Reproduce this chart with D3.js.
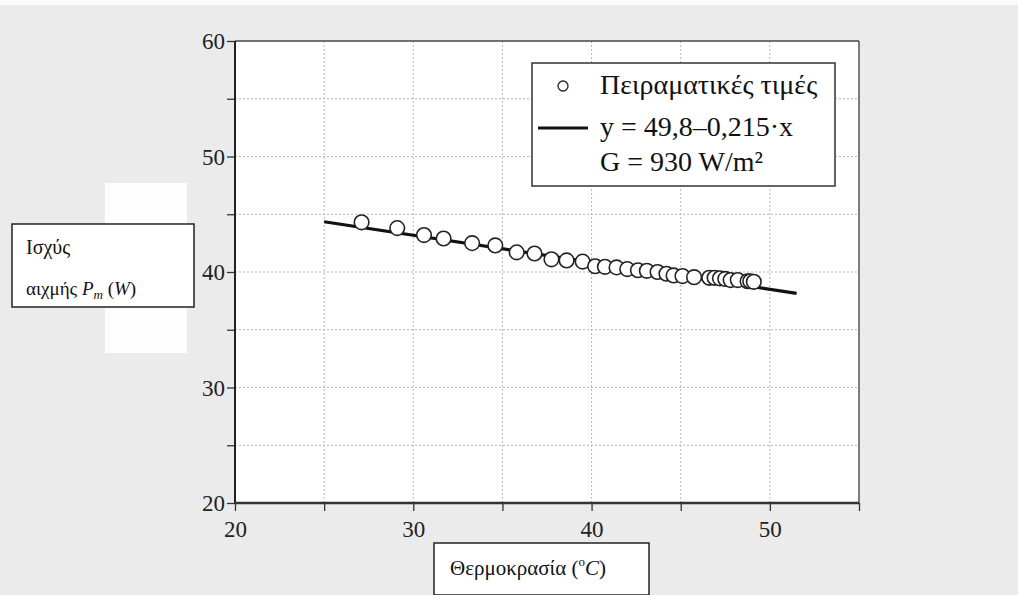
<!DOCTYPE html>
<html>
<head>
<meta charset="utf-8">
<script src="https://cdn.jsdelivr.net/npm/d3@7"></script>
<style>
  body { margin: 0; background: #ebebeb; }
  text { font-family: "Liberation Serif", "DejaVu Serif", serif; }
</style>
</head>
<body>
<script>
// μετρήσεις: θερμοκρασία (°C) και ισχύς αιχμής (W)
var tempX = [27.1, 29.1, 30.6, 31.7, 33.3, 34.6, 35.8, 36.8, 37.75, 38.6, 39.5, 40.2, 40.75, 41.4,
             42.0, 42.6, 43.1, 43.7, 44.2, 44.6, 45.1, 45.75, 46.6, 46.9, 47.2, 47.5, 47.8, 48.2,
             48.75, 48.9, 49.1];
var powerY = [44.3, 43.8, 43.2, 42.9, 42.5, 42.3, 41.7, 41.6, 41.1, 41.0, 40.9, 40.5, 40.45, 40.4,
              40.25, 40.15, 40.1, 40.0, 39.85, 39.7, 39.65, 39.55, 39.5, 39.5, 39.45, 39.4, 39.3, 39.3,
              39.2, 39.2, 39.15];
// ευθεία προσαρμογής (άκρα όπως στο σχήμα)
var fitX = [25, 51.5];
var fitY = [44.35, 38.15];

var xTicks = [20, 30, 40, 50];
var yTicks = [20, 30, 40, 50, 60];
var gridTicks = [25, 30, 35, 40, 45, 50];

var legendLabels = ["Πειραματικές τιμές", "y = 49,8–0,215·x", "G = 930 W/m²"];

var w = 1018;
var h = 595;

var svg = d3.select("body")
  .append("svg")
  .attr("width", w)
  .attr("height", h)
  .attr("id", "mysvg");

// λευκή λωρίδα πάνω (σάρωση)
svg.append("rect").attr("x", 0).attr("y", 0).attr("width", w).attr("height", 5).attr("fill", "#fafafa");

var xScale = d3.scaleLinear().domain([20, 55]).range([235, 859]);
var yScale = d3.scaleLinear().domain([20, 60]).range([503, 41]);

// λευκό ορθογώνιο πίσω από τον τίτλο του άξονα y
svg.append("rect")
  .attr("x", 105).attr("y", 183).attr("width", 82).attr("height", 170)
  .attr("fill", "#fdfdfd");

// περιοχή γραφήματος
svg.append("rect")
  .attr("x", xScale(20)).attr("y", yScale(60))
  .attr("width", xScale(55) - xScale(20))
  .attr("height", yScale(20) - yScale(60))
  .attr("fill", "white");

// πλέγμα (διακεκομμένο)
svg.append("g").selectAll("line")
  .data(gridTicks)
  .enter().append("line")
  .attr("x1", function(d) { return xScale(d); })
  .attr("x2", function(d) { return xScale(d); })
  .attr("y1", yScale(60)).attr("y2", yScale(20))
  .attr("stroke", "#b5b5b5").attr("stroke-width", 1).attr("stroke-dasharray", "2,2");

svg.append("g").selectAll("line")
  .data(gridTicks.concat([55]))
  .enter().append("line")
  .attr("y1", function(d) { return yScale(d); })
  .attr("y2", function(d) { return yScale(d); })
  .attr("x1", xScale(20)).attr("x2", xScale(55))
  .attr("stroke", "#b5b5b5").attr("stroke-width", 1).attr("stroke-dasharray", "2,2");

// άξονες
var xAxis = d3.axisBottom(xScale)
  .tickValues(d3.range(20, 56, 5))
  .tickSize(8)
  .tickFormat(function(d) { return xTicks.indexOf(d) >= 0 ? d : ""; });
var yAxis = d3.axisLeft(yScale)
  .tickValues(d3.range(20, 61, 5))
  .tickSize(8)
  .tickFormat(function(d) { return yTicks.indexOf(d) >= 0 ? d : ""; });

var gx = svg.append("g")
  .attr("class", "x axis")
  .attr("transform", "translate(0," + yScale(20) + ")")
  .call(xAxis);
gx.select(".domain").remove();
gx.selectAll("line").attr("stroke", "#333").attr("stroke-width", 1.3);
gx.selectAll("text")
  .attr("font-family", "Liberation Serif")
  .attr("font-size", "23px")
  .attr("fill", "#222")
  .attr("dy", "1.0em");

var gy = svg.append("g")
  .attr("class", "y axis")
  .attr("transform", "translate(" + xScale(20) + ",0)")
  .call(yAxis);
gy.select(".domain").remove();
gy.selectAll("line").attr("stroke", "#333").attr("stroke-width", 1.3);
gy.selectAll("text")
  .attr("font-family", "Liberation Serif")
  .attr("font-size", "23px")
  .attr("fill", "#222")
  .attr("x", -10)
  .attr("dy", "0.34em");

// πλαίσιο
svg.append("line").attr("x1", xScale(20)).attr("x2", xScale(55)).attr("y1", yScale(60)).attr("y2", yScale(60))
  .attr("stroke", "#444").attr("stroke-width", 1.5);
svg.append("line").attr("x1", xScale(55)).attr("x2", xScale(55)).attr("y1", yScale(60)).attr("y2", yScale(20))
  .attr("stroke", "#555").attr("stroke-width", 1.5);
svg.append("line").attr("x1", xScale(20)).attr("x2", xScale(20)).attr("y1", yScale(60)).attr("y2", yScale(20))
  .attr("stroke", "#222").attr("stroke-width", 2);
svg.append("line").attr("x1", xScale(20)).attr("x2", xScale(55)).attr("y1", yScale(20)).attr("y2", yScale(20))
  .attr("stroke", "#333").attr("stroke-width", 2.5);

// ευθεία
var line = d3.line()
  .x(function(d, i) { return xScale(fitX[i]); })
  .y(function(d) { return yScale(d); });
svg.append("path")
  .attr("d", line(fitY))
  .attr("fill", "none")
  .attr("stroke", "#111")
  .attr("stroke-width", 3.2);

// σημεία
svg.selectAll("circle.pt")
  .data(powerY)
  .enter()
  .append("circle")
  .attr("class", "pt")
  .attr("cx", function(d, i) { return xScale(tempX[i]); })
  .attr("cy", function(d) { return yScale(d); })
  .attr("r", 7.3)
  .attr("fill", "white")
  .attr("stroke", "#222")
  .attr("stroke-width", 1.6);

// υπόμνημα
var lg = svg.append("g");
lg.append("rect")
  .attr("x", 532).attr("y", 63).attr("width", 303).attr("height", 123)
  .attr("fill", "white").attr("stroke", "#333").attr("stroke-width", 1.5);
lg.append("circle")
  .attr("cx", 563).attr("cy", 86).attr("r", 5)
  .attr("fill", "white").attr("stroke", "#222").attr("stroke-width", 1.3);
lg.append("line")
  .attr("x1", 538).attr("x2", 588).attr("y1", 128).attr("y2", 128)
  .attr("stroke", "#111").attr("stroke-width", 3);
lg.selectAll("text")
  .data(legendLabels)
  .enter()
  .append("text")
  .attr("x", 600)
  .attr("y", function(d, i) { return [94, 136, 171][i]; })
  .attr("font-family", "Liberation Serif")
  .attr("font-size", "28px")
  .attr("fill", "#111")
  .text(function(d) { return d; });

// τίτλος άξονα y
var yl = svg.append("g");
yl.append("rect")
  .attr("x", 12).attr("y", 224).attr("width", 182).attr("height", 83)
  .attr("fill", "white").attr("stroke", "#222").attr("stroke-width", 1.5);
yl.append("text")
  .attr("x", 26).attr("y", 254)
  .attr("font-size", "20px").attr("fill", "#111")
  .text("Ισχύς");
var t2 = yl.append("text")
  .attr("x", 26).attr("y", 295)
  .attr("font-size", "19px").attr("fill", "#111");
t2.append("tspan").text("αιχμής ");
t2.append("tspan").attr("font-style", "italic").text("P");
t2.append("tspan").attr("font-style", "italic").attr("font-size", "13px").attr("dy", 4).text("m");
t2.append("tspan").attr("dy", -4).text(" (");
t2.append("tspan").attr("font-style", "italic").text("W");
t2.append("tspan").text(")");

// τίτλος άξονα x
var xl = svg.append("g");
xl.append("rect")
  .attr("x", 434).attr("y", 543).attr("width", 215).attr("height", 52)
  .attr("fill", "white").attr("stroke", "#222").attr("stroke-width", 1.5);
var t3 = xl.append("text")
  .attr("x", 450).attr("y", 575)
  .attr("font-family", "DejaVu Sans")
  .attr("font-size", "21px").attr("fill", "#111");
t3.append("tspan").text("Θερμοκρασία (");
t3.append("tspan").attr("font-size", "13px").attr("dy", -9).text("o");
t3.append("tspan").attr("dy", 9).attr("font-style", "italic").text("C");
t3.append("tspan").text(")");
</script>
</body>
</html>
